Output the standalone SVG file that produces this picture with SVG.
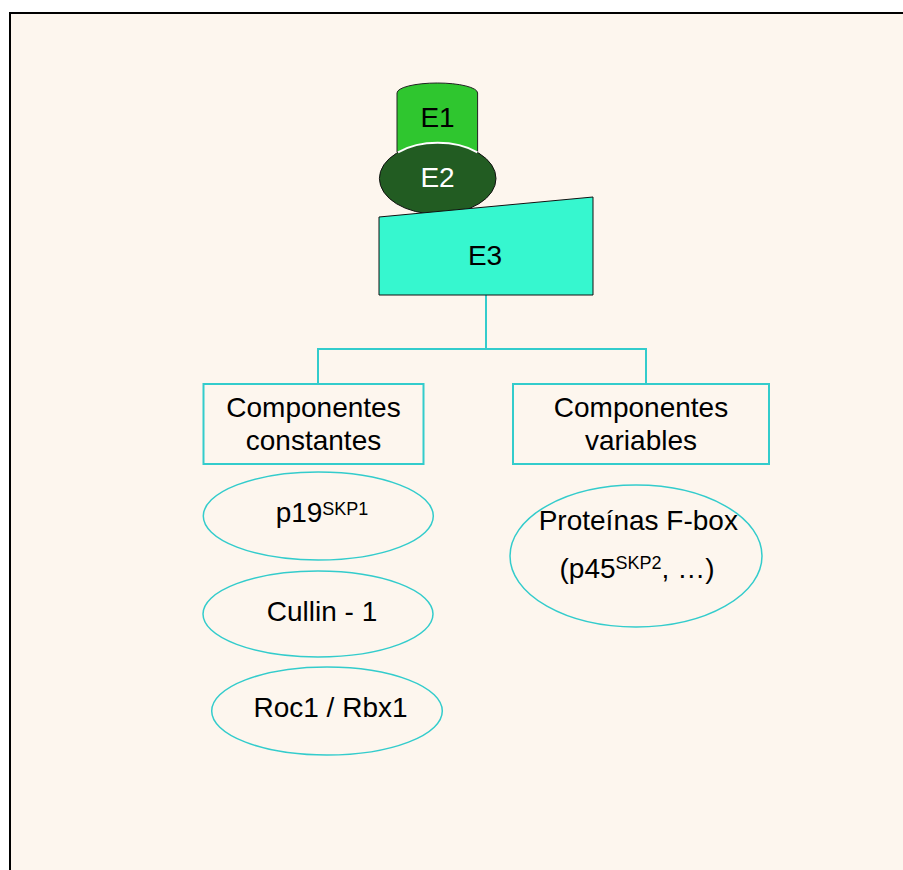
<svg xmlns="http://www.w3.org/2000/svg" width="903" height="870" viewBox="0 0 903 870">
<style>
text{font-family:"Liberation Sans",Arial,sans-serif;fill:#000;text-anchor:middle}
.main{font-size:28px}
.sup{font-size:18px}
.box{fill:none;stroke:#33cccc;stroke-width:2}
.ell{fill:none;stroke:#33cccc;stroke-width:1.5}
.conn{fill:none;stroke:#33cccc;stroke-width:2}
</style>
<rect x="0" y="0" width="903" height="870" fill="#ffffff"/>
<rect x="10" y="13" width="893" height="857" fill="#fdf6ee"/>
<path d="M10,870 V13 H903" fill="none" stroke="#000" stroke-width="2"/>

<g id="connectors">
<path class="conn" d="M486,295 V349"/>
<path class="conn" d="M318,384 V349 H646 V384"/>
</g>

<g id="E1">
<path d="M397,93 A40.3,10 0 0,1 477.6,93 V152 L397,152 Z" fill="#2fc62f" stroke="#222" stroke-width="1"/>
<text class="main" x="437.5" y="127">E1</text>
</g>

<g id="E2">
<ellipse cx="437.7" cy="178.5" rx="58.3" ry="35.7" fill="#225c22" stroke="#111" stroke-width="1"/>
<path d="M398,152.4 A58.3,35.7 0 0,1 477.4,152.4" fill="none" stroke="#ffffff" stroke-width="2"/>
<text class="main" x="437.5" y="187" style="fill:#ffffff">E2</text>
</g>

<g id="E3">
<path d="M379,217 L593,197 V295 H379 Z" fill="#36f7cf" stroke="#111" stroke-width="1"/>
<text class="main" x="485" y="265">E3</text>
</g>

<g id="constantes">
<rect class="box" x="203.5" y="384" width="220" height="80"/>
<text class="main" x="313.5" y="417">Componentes</text>
<text class="main" x="313.5" y="450">constantes</text>
</g>

<g id="variables">
<rect class="box" x="513" y="384" width="256" height="80"/>
<text class="main" x="641" y="417">Componentes</text>
<text class="main" x="641" y="450">variables</text>
</g>

<g id="p19">
<ellipse class="ell" cx="318.3" cy="516" rx="115" ry="44"/>
<text class="main" x="322" y="522">p19<tspan class="sup" dy="-7">SKP1</tspan></text>
</g>

<g id="cullin">
<ellipse class="ell" cx="318" cy="614" rx="115" ry="43"/>
<text class="main" x="322" y="621">Cullin - 1</text>
</g>

<g id="roc1">
<ellipse class="ell" cx="327" cy="711" rx="115.3" ry="44"/>
<text class="main" x="330.5" y="717">Roc1 / Rbx1</text>
</g>

<g id="fbox">
<ellipse class="ell" cx="636" cy="556" rx="126" ry="71"/>
<text class="main" x="638.3" y="529.5">Proteínas F-box</text>
<text class="main" x="637" y="577.5">(p45<tspan class="sup" dy="-9">SKP2</tspan><tspan dy="9">, …)</tspan></text>
</g>
</svg>
